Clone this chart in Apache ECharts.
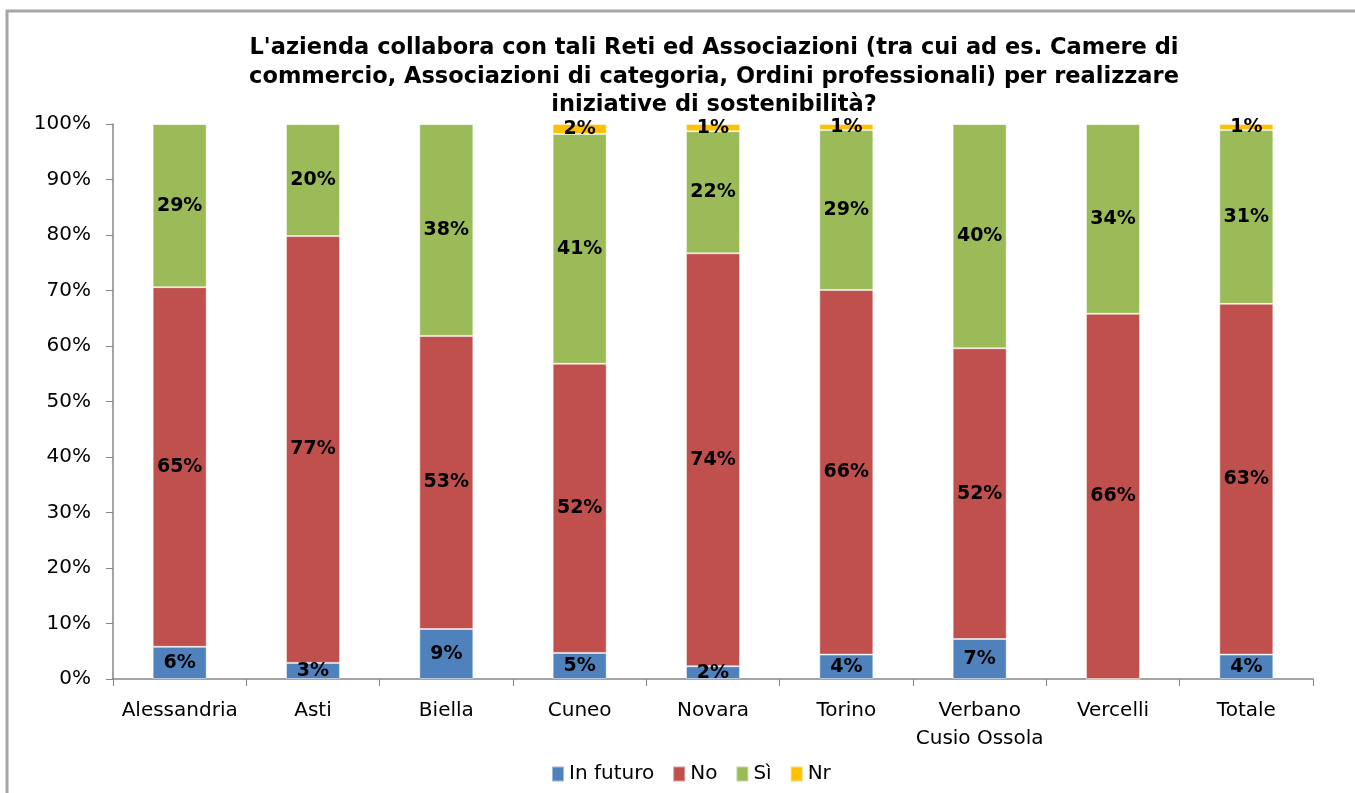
<!DOCTYPE html>
<html>
<head>
<meta charset="utf-8">
<script src="https://cdn.jsdelivr.net/npm/echarts@6/dist/echarts.min.js"></script>
<style>
  html, body { margin: 0; padding: 0; background: #fff; }
  #chart { width: 1355px; height: 793px; }
</style>
</head>
<body>
<div id="chart"></div>
<script>
// Province and overall total
const categories = ['Alessandria', 'Asti', 'Biella', 'Cuneo', 'Novara', 'Torino', 'Verbano\nCusio Ossola', 'Vercelli', 'Totale'];

// Share of answers per province (%)
const inFuturo = [5.8, 2.9, 9.0, 4.7, 2.3, 4.4, 7.2, 0, 4.4];
const no       = [64.8, 76.9, 52.8, 52.1, 74.4, 65.7, 52.4, 65.8, 63.2];
const si       = [29.4, 20.2, 38.2, 41.4, 22.0, 28.8, 40.4, 34.2, 31.3];
const nr       = [0, 0, 0, 1.8, 1.3, 1.1, 0, 0, 1.1];

const yTicks = [0, 10, 20, 30, 40, 50, 60, 70, 80, 90, 100];

const FONT = 'DejaVu Sans, Verdana, sans-serif';

const chart = echarts.init(document.getElementById('chart'), null, { renderer: 'canvas' });

function makeSeries(name, data, color) {
  return {
    name: name,
    type: 'bar',
    stack: 'total',
    data: data,
    barWidth: 54,
    itemStyle: { color: color, borderColor: 'rgba(255,255,255,0.45)', borderWidth: 1 },
    label: {
      show: true,
      position: 'inside',
      color: '#000',
      fontFamily: FONT,
      fontWeight: 'bold',
      fontSize: 19,
      formatter: p => (p.value > 0 ? Math.round(p.value) + '%' : '')
    },
    emphasis: { disabled: true }
  };
}

chart.setOption({
  animation: false,
  backgroundColor: '#fff',
  title: {
    text: "L'azienda collabora con tali Reti ed Associazioni (tra cui ad es. Camere di\ncommercio, Associazioni di categoria, Ordini professionali) per realizzare\niniziative di sostenibilità?",
    left: 709,
    textAlign: 'center',
    top: 29,
    textStyle: {
      fontFamily: FONT,
      fontWeight: 'bold',
      fontSize: 22.5,
      lineHeight: 28.5,
      color: '#000'
    }
  },
  legend: {
    bottom: 9,
    left: 551,
    padding: 0,
    itemWidth: 12,
    itemHeight: 15,
    itemGap: 18,
    icon: 'rect',
    textStyle: { fontFamily: FONT, fontSize: 20, color: '#000' },
    data: ['In futuro', 'No', 'Sì', 'Nr']
  },
  grid: { left: 113, right: 42, top: 124, bottom: 114, containLabel: false },
  xAxis: {
    type: 'category',
    data: categories,
    axisLine: { show: true, lineStyle: { color: '#868686', width: 1.5 } },
    axisTick: { show: true, length: 7, lineStyle: { color: '#868686' } },
    axisLabel: {
      interval: 0,
      fontFamily: FONT,
      fontSize: 20,
      color: '#000',
      margin: 18,
      lineHeight: 28
    }
  },
  yAxis: {
    type: 'value',
    min: yTicks[0],
    max: yTicks[yTicks.length - 1],
    interval: 10,
    axisLine: { show: true, lineStyle: { color: '#868686', width: 1.5 } },
    axisTick: { show: true, length: 7, lineStyle: { color: '#868686' } },
    splitLine: { show: false },
    axisLabel: {
      fontFamily: FONT,
      fontSize: 20,
      color: '#000',
      margin: 22,
      formatter: v => v + '%'
    }
  },
  series: [
    makeSeries('In futuro', inFuturo, '#4F81BD'),
    makeSeries('No', no, '#C0504D'),
    makeSeries('Sì', si, '#9BBB59'),
    makeSeries('Nr', nr, '#FFC000')
  ],
  graphic: [{
    type: 'rect',
    silent: true,
    shape: { x: 7, y: 11, width: 1400, height: 900 },
    style: { fill: 'none', stroke: '#a6a6a6', lineWidth: 3 }
  }]
});
</script>
</body>
</html>
